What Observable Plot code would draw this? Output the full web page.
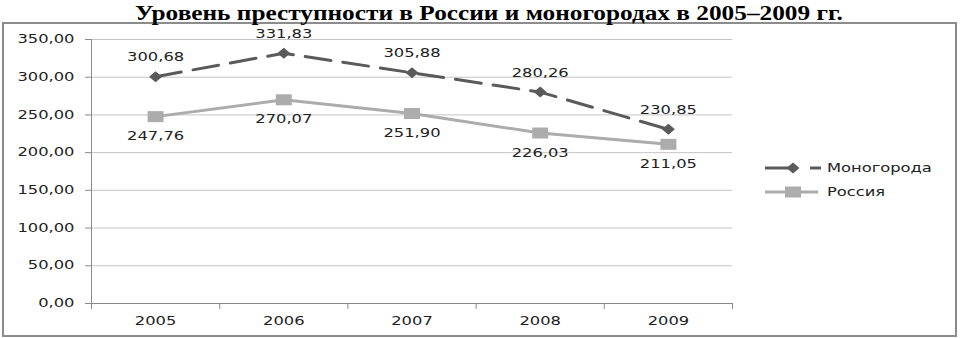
<!DOCTYPE html>
<html><head><meta charset="utf-8">
<script src="https://cdn.jsdelivr.net/npm/d3@7"></script>
<script src="https://cdn.jsdelivr.net/npm/@observablehq/plot@0.6"></script>
<style>
body{margin:0;background:#fff;width:960px;height:338px;overflow:hidden;position:relative}
#title{position:absolute;left:9px;width:960px;top:0;height:20px;line-height:16px;text-align:center;font:bold 22px "Liberation Serif",serif;color:#000;white-space:nowrap;transform:scaleX(1.15);transform-origin:center}
#frame{position:absolute;left:2px;top:22px;width:955px;height:315px;border:2px solid #8c8c8c;box-sizing:border-box}
#chart{position:absolute;left:0;top:22px}
#legend{position:absolute;left:0;top:0}
</style></head><body>
<div id="frame"></div>
<div id="title">Уровень преступности в России и моногородах в 2005–2009 гг.</div>
<div id="chart"></div>
<svg id="legend" width="960" height="338"></svg>
<script>
const years = [2005, 2006, 2007, 2008, 2009];
const monogoroda = [300.68, 331.83, 305.88, 280.26, 230.85];
const russia = [247.76, 270.07, 251.90, 226.03, 211.05];
const yTicks = [0, 50, 100, 150, 200, 250, 300, 350];
const seriesNames = ["Моногорода", "Россия"];

const darkC = "#5a5a5a", lightC = "#acacac";
const FS = 11.5, STRETCH = 1.42;
const fmt = v => v.toFixed(2).replace(".", ",");
const mono = years.map((yr, i) => ({year: yr, value: monogoroda[i]}));
const rus = years.map((yr, i) => ({year: yr, value: russia[i]}));
const bounds = [years[0] - 0.5, ...years.map(y => y + 0.5)];

const diamondSym = {draw(ctx) { const w = 6.5, h = 5.5; ctx.moveTo(0, -h); ctx.lineTo(w, 0); ctx.lineTo(0, h); ctx.lineTo(-w, 0); ctx.closePath(); }};
const rectSym = {draw(ctx) { const w = 8, h = 5.5; ctx.moveTo(-w, -h); ctx.lineTo(w, -h); ctx.lineTo(w, h); ctx.lineTo(-w, h); ctx.closePath(); }};

const chart = Plot.plot({
  width: 960, height: 316,
  marginLeft: 91, marginRight: 228, marginTop: 17, marginBottom: 35,
  style: {fontFamily: "DejaVu Sans", fontSize: FS + "px", color: "#222", background: "transparent"},
  x: {type: "linear", domain: [years[0] - 0.5, years[years.length - 1] + 0.5]},
  y: {domain: [0, 350]},
  marks: [
    Plot.gridY(yTicks, {stroke: "#c4c4c4", strokeOpacity: 1}),
    Plot.ruleX([bounds[0]], {stroke: "#8a8a8a"}),
    Plot.ruleY([0], {stroke: "#8a8a8a"}),
    Plot.axisY({ticks: yTicks, tickSize: 6, tickPadding: 11, tickFormat: fmt, stroke: "#8a8a8a", label: null, fontSize: FS}),
    Plot.axisX({ticks: years, tickSize: 0, tickPadding: 13, tickFormat: d => String(d), label: null, fontSize: FS}),
    Plot.axisX({ticks: bounds, tickSize: 6, tickFormat: () => "", stroke: "#8a8a8a", label: null}),
    Plot.line(rus, {x: "year", y: "value", stroke: lightC, strokeWidth: 3}),
    Plot.line(mono, {x: "year", y: "value", stroke: darkC, strokeWidth: 3, strokeDasharray: "26,12"}),
    Plot.dot(rus, {x: "year", y: "value", symbol: rectSym, fill: lightC, stroke: "none"}),
    Plot.dot(mono, {x: "year", y: "value", symbol: diamondSym, fill: darkC, stroke: "none"}),
    Plot.text(mono, {x: "year", y: "value", text: d => fmt(d.value), dy: -19, fontSize: FS, fill: "#222"}),
    Plot.text(rus, {x: "year", y: "value", text: d => fmt(d.value), dy: 20, fontSize: FS, fill: "#222"})
  ]
});
document.getElementById("chart").appendChild(chart);

// legend
const lg = d3.select("#legend");
const items = [
  {name: seriesNames[0], color: darkC, y: 168, sym: "diamond"},
  {name: seriesNames[1], color: lightC, y: 192, sym: "rect"}
];
items.forEach(it => {
  if (it.sym === "diamond") {
    lg.append("line").attr("x1", 765).attr("x2", 790).attr("y1", it.y).attr("y2", it.y).attr("stroke", it.color).attr("stroke-width", 3);
    lg.append("line").attr("x1", 810).attr("x2", 821).attr("y1", it.y).attr("y2", it.y).attr("stroke", it.color).attr("stroke-width", 3);
    lg.append("path").attr("d", d3.symbol(diamondSym)()).attr("transform", `translate(793,${it.y})`).attr("fill", it.color);
  } else {
    lg.append("line").attr("x1", 765).attr("x2", 818).attr("y1", it.y).attr("y2", it.y).attr("stroke", it.color).attr("stroke-width", 3);
    lg.append("path").attr("d", d3.symbol(rectSym)()).attr("transform", `translate(793,${it.y})`).attr("fill", it.color);
  }
  lg.append("text").attr("x", 827).attr("y", it.y).attr("dy", "0.35em").attr("font-family", "DejaVu Sans").attr("font-size", FS).attr("fill", "#222").text(it.name);
});

// horizontal stretch of the glyphs, like the reference, keeping each anchor point fixed
document.querySelectorAll("svg text").forEach(t => {
  if (!t.textContent) return;
  const x = +(t.getAttribute("x") || 0);
  const tr = t.getAttribute("transform") || "";
  t.setAttribute("transform", `${tr} translate(${x},0) scale(${STRETCH},1) translate(${-x},0)`);
});
</script>
</body></html>
